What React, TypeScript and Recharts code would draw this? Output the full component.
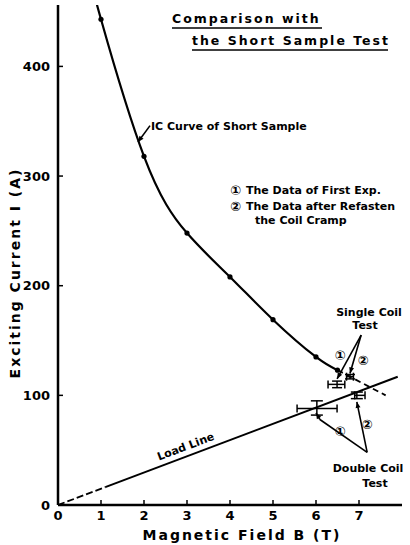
import React from 'react';
import {
  ComposedChart,
  Line,
  Scatter,
  XAxis,
  YAxis,
  ErrorBar,
  ReferenceLine
} from 'recharts';

// Ic curve of the short sample (measured dots), B in T, I in A
const sampleField = [1, 2, 3, 4, 5, 6, 6.5];
const sampleCurrent = [443, 318, 248, 208, 169, 135, 123];

// where the fitted curve leaves the top of the frame
const curveTopField = [0.92];
const curveTopCurrent = [456];

// dashed extrapolation of the Ic curve
const extField = [6.5, 7.62];
const extCurrent = [123, 100];

// load line (dashed near the origin, solid after)
const loadField = [0, 1.1, 7.9];
const loadCurrent = [0, 16.3, 117];

// single coil test: ① first exp, ② after refasten
const singleField = [6.49, 6.79];
const singleCurrent = [110, 117];
const singleFieldErr = [[0.21, 0.18], [0.08, 0.08]];
const singleCurrentErr = [3, 2];

// double coil test
const doubleField = [6.02, 6.95];
const doubleCurrent = [88, 100];
const doubleFieldErr = [[0.46, 0.47], [0.05, 0.19]];
const doubleCurrentErr = [[6, 7], [3, 3]];

const xTicks = [0, 1, 2, 3, 4, 5, 6, 7];
const yTicks = [0, 100, 200, 300, 400];

const font = '"DejaVu Sans", sans-serif';

const samplePoints = sampleField.map((b, k) => ({ b, i: sampleCurrent[k] }));
const icCurve = [
  ...curveTopField.map((b, k) => ({ b, i: curveTopCurrent[k] })),
  ...samplePoints
];
const icExt = extField.map((b, k) => ({ b, i: extCurrent[k] }));
const loadDashed = loadField.slice(0, 2).map((b, k) => ({ b, i: loadCurrent[k] }));
const loadSolid = loadField.slice(1).map((b, k) => ({ b, i: loadCurrent[k + 1] }));
const singlePts = singleField.map((b, k) => ({
  b, i: singleCurrent[k], be: singleFieldErr[k], ie: singleCurrentErr[k]
}));
const doublePts = doubleField.map((b, k) => ({
  b, i: doubleCurrent[k], be: doubleFieldErr[k], ie: doubleCurrentErr[k]
}));

// annotation leader lines, in data coords [from, to]
const arrows: [number, number, number, number, boolean][] = [
  [2.14, 346, 1.86, 331, true],   // IC curve label
  [7.05, 155, 6.49, 115, true],   // single ①
  [7.05, 155, 6.79, 120, true],   // single ②
  [7.19, 48, 6.09, 78, false],    // double ①
  [6.09, 78, 6.0, 84, true],
  [7.19, 48, 6.95, 94, true]      // double ②
];

const ArrowShape = (props: any) => {
  const { x1, y1, x2, y2, head } = props;
  if (x1 == null) return null;
  const a = Math.atan2(y2 - y1, x2 - x1);
  const h = 6;
  const w = 2.5;
  const bx = x2 - h * Math.cos(a);
  const by = y2 - h * Math.sin(a);
  const px = -Math.sin(a) * w;
  const py = Math.cos(a) * w;
  return (
    <g>
      <line x1={x1} y1={y1} x2={x2} y2={y2} stroke="#000" strokeWidth={1.6} />
      {head && (
        <polygon points={`${x2},${y2} ${bx + px},${by + py} ${bx - px},${by - py}`} fill="#000" />
      )}
    </g>
  );
};

const dotShape = (p: any) => <circle cx={p.cx} cy={p.cy} r={2.6} fill="#000" />;
const noShape = () => <g />;

const tickStyle = { fill: '#000', fontSize: 13, fontWeight: 'bold', fontFamily: font };

export default function App() {
  return (
    <div style={{ position: 'absolute', left: 0, top: 0, width: 410, height: 545, background: '#fff' }}>
      <ComposedChart width={410} height={545} margin={{ top: 5, right: 8, bottom: 0, left: 0 }}>
        <XAxis
          type="number"
          dataKey="b"
          domain={[0, 8]}
          ticks={xTicks}
          interval={0}
          allowDataOverflow
          height={40}
          tickSize={-5}
          tickMargin={11}
          axisLine={{ stroke: '#000', strokeWidth: 2.5 }}
          tickLine={{ stroke: '#000', strokeWidth: 1.5 }}
          tick={tickStyle}
        />
        <YAxis
          type="number"
          dataKey="i"
          domain={[0, 456]}
          ticks={yTicks}
          interval={0}
          allowDataOverflow
          width={58}
          tickSize={-5}
          tickMargin={13}
          axisLine={{ stroke: '#000', strokeWidth: 2.5 }}
          tickLine={{ stroke: '#000', strokeWidth: 1.5 }}
          tick={tickStyle}
        />
        <Line data={icCurve} dataKey="i" type="natural" stroke="#000" strokeWidth={2.2}
          dot={false} isAnimationActive={false} />
        <Line data={icExt} dataKey="i" type="linear" stroke="#000" strokeWidth={1.8}
          strokeDasharray="6 4" dot={false} isAnimationActive={false} />
        <Line data={loadDashed} dataKey="i" type="linear" stroke="#000" strokeWidth={1.8}
          strokeDasharray="7 3" dot={false} isAnimationActive={false} />
        <Line data={loadSolid} dataKey="i" type="linear" stroke="#000" strokeWidth={2}
          dot={false} isAnimationActive={false} />
        <Scatter data={samplePoints} dataKey="i" shape={dotShape} isAnimationActive={false} />
        <Scatter data={singlePts} dataKey="i" shape={noShape} isAnimationActive={false}>
          <ErrorBar dataKey="be" direction="x" width={4} stroke="#000" strokeWidth={1.5} />
          <ErrorBar dataKey="ie" direction="y" width={5} stroke="#000" strokeWidth={1.5} />
        </Scatter>
        <Scatter data={doublePts} dataKey="i" shape={noShape} isAnimationActive={false}>
          <ErrorBar dataKey="be" direction="x" width={4} stroke="#000" strokeWidth={1.5} />
          <ErrorBar dataKey="ie" direction="y" width={6} stroke="#000" strokeWidth={1.5} />
        </Scatter>
        {arrows.map(([xa, ya, xb, yb, head], k) => (
          <ReferenceLine
            key={k}
            segment={[{ x: xa, y: ya }, { x: xb, y: yb }]}
            shape={(p: any) => <ArrowShape {...p} head={head} />}
          />
        ))}
      </ComposedChart>
      <svg width={410} height={545}
        style={{ position: 'absolute', left: 0, top: 0, pointerEvents: 'none' }}
        fontFamily={font} fontWeight="bold" fill="#000">
        <text x={172} y={23} fontSize={12.5} letterSpacing={2}>Comparison with</text>
        <line x1={172} y1={28} x2={322} y2={28} stroke="#000" strokeWidth={1.5} />
        <text x={192} y={45} fontSize={12.5} letterSpacing={2}>the Short Sample Test</text>
        <line x1={192} y1={50} x2={388} y2={50} stroke="#000" strokeWidth={1.5} />

        <text x={151} y={130} fontSize={11}>IC Curve of Short Sample</text>

        <text x={230} y={195} fontSize={13}>①</text>
        <text x={246} y={194} fontSize={11}>The Data of First Exp.</text>
        <text x={230} y={211} fontSize={13}>②</text>
        <text x={246} y={210} fontSize={11}>The Data after Refasten</text>
        <text x={255} y={224} fontSize={11}>the Coil Cramp</text>

        <text x={369} y={316} fontSize={11} textAnchor="middle">Single Coil</text>
        <text x={365} y={329} fontSize={11} textAnchor="middle">Test</text>
        <text x={340} y={360} fontSize={13} textAnchor="middle">①</text>
        <text x={363} y={365} fontSize={13} textAnchor="middle">②</text>

        <text x={340} y={436} fontSize={13} textAnchor="middle">①</text>
        <text x={367} y={429} fontSize={13} textAnchor="middle">②</text>
        <text x={368} y={472} fontSize={11} textAnchor="middle">Double Coil</text>
        <text x={375} y={487} fontSize={11} textAnchor="middle">Test</text>

        <text x={187} y={450} fontSize={11} textAnchor="middle"
          transform="rotate(-20.7 187 450)">Load Line</text>

        <text x={242} y={540} fontSize={14} letterSpacing={2} textAnchor="middle">
          Magnetic Field B (T)
        </text>
        <text x={0} y={0} fontSize={14} letterSpacing={2} textAnchor="middle"
          transform="translate(20 273) rotate(-90)">
          Exciting Current I (A)
        </text>
      </svg>
    </div>
  );
}
